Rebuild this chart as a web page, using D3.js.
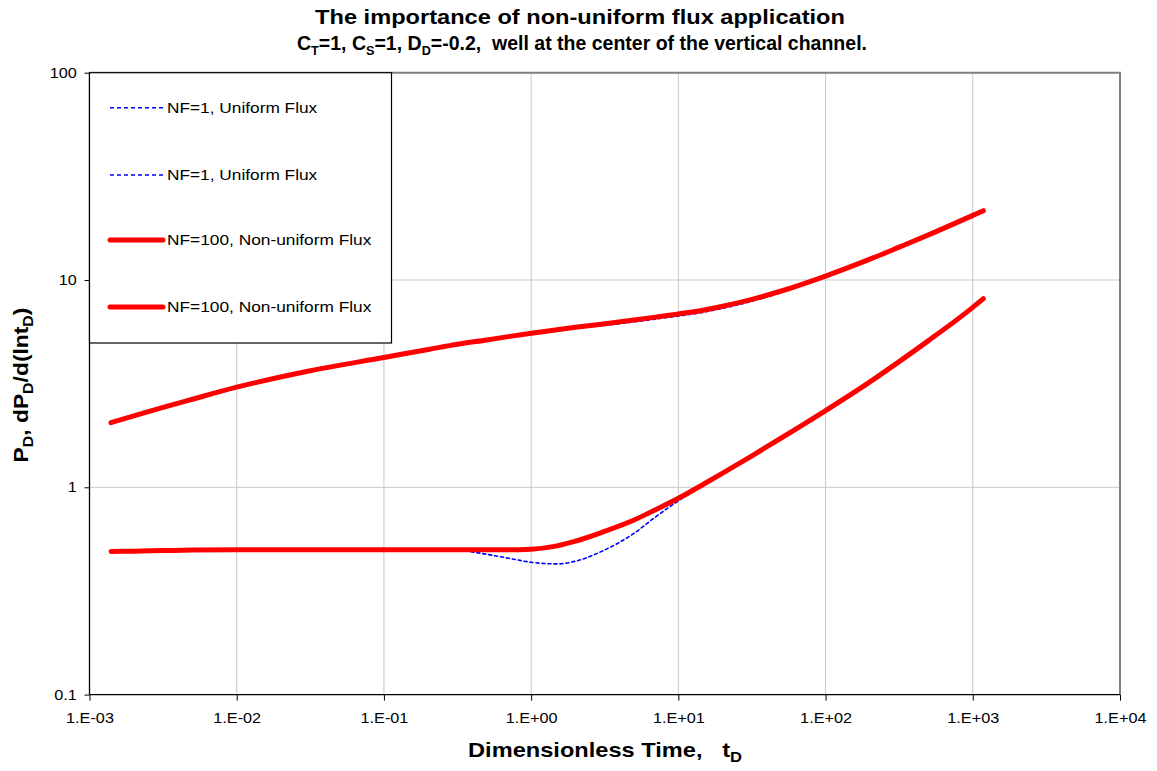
<!DOCTYPE html>
<html>
<head>
<meta charset="utf-8">
<script src="https://cdn.jsdelivr.net/npm/d3@7"></script>
<style>
  html, body { margin: 0; padding: 0; background: #fff; }
  svg { display: block; font-family: Arial, "Liberation Sans", sans-serif; }
</style>
</head>
<body>
<svg id="chart" width="1157" height="771"></svg>
<script>
// Dimensionless time samples
const tD = [0.0014, 0.002, 0.00316, 0.005, 0.01, 0.0316, 0.1, 0.2, 0.316, 0.5, 0.7, 1, 1.5, 2, 3, 5, 7, 10, 15, 20, 31.6, 50, 100, 200, 316, 500, 1000, 1180];

// NF=1, uniform flux: pressure and derivative
const pdUniform  = [2.05, 2.21, 2.43, 2.66, 3.04, 3.65, 4.23, 4.62, 4.9, 5.14, 5.33, 5.53, 5.74, 5.86, 6.02, 6.28, 6.48, 6.70, 7.0, 7.3, 7.9, 8.7, 10.4, 12.6, 14.4, 16.5, 20.5, 21.6];
const dpdUniform = [0.49, 0.492, 0.495, 0.498, 0.5, 0.5, 0.5, 0.5, 0.497, 0.475, 0.455, 0.435, 0.427, 0.44, 0.49, 0.60, 0.72, 0.86, 1.03, 1.171, 1.419, 1.729, 2.345, 3.226, 4.04, 5.1, 7.38, 8.13];

// NF=100, non-uniform flux: pressure and derivative
const pdNonUniform  = [2.05, 2.21, 2.43, 2.66, 3.04, 3.65, 4.23, 4.62, 4.9, 5.14, 5.33, 5.53, 5.76, 5.91, 6.12, 6.41, 6.62, 6.86, 7.17, 7.47, 8.07, 8.85, 10.45, 12.6, 14.4, 16.5, 20.5, 21.6];
const dpdNonUniform = [0.49, 0.492, 0.495, 0.498, 0.5, 0.5, 0.5, 0.5, 0.5, 0.5, 0.5, 0.503, 0.522, 0.55, 0.605, 0.695, 0.78, 0.885, 1.04, 1.171, 1.419, 1.729, 2.345, 3.226, 4.04, 5.1, 7.38, 8.13];

const xTicks = [1e-3, 1e-2, 1e-1, 1e0, 1e1, 1e2, 1e3, 1e4];
const xTickLabels = ["1.E-03", "1.E-02", "1.E-01", "1.E+00", "1.E+01", "1.E+02", "1.E+03", "1.E+04"];
const yTicks = [0.1, 1, 10, 100];
const yTickLabels = ["0.1", "1", "10", "100"];

const legendLabels = ["NF=1, Uniform Flux", "NF=1, Uniform Flux", "NF=100, Non-uniform Flux", "NF=100, Non-uniform Flux"];

const series = [
  { values: pdUniform,     kind: "uniform" },
  { values: dpdUniform,    kind: "uniform" },
  { values: pdNonUniform,  kind: "nonuniform" },
  { values: dpdNonUniform, kind: "nonuniform" }
];

const styles = {
  uniform:    { stroke: "#0000ff", width: 1.6, dash: "3,3" },
  nonuniform: { stroke: "#ff0000", width: 5,   dash: null }
};

const svg = d3.select("#chart");
const plot = { left: 89.5, right: 1120, top: 72.7, bottom: 694.6 };

const x = d3.scaleLog().domain([1e-3, 1e4]).range([plot.left, plot.right]);
const y = d3.scaleLog().domain([0.1, 100]).range([plot.bottom, plot.top]);

// stretch a text group horizontally so it spans the given width
function fitWidth(g, target) {
  const w = g.node().getBBox().width;
  g.attr("transform", `${g.attr("transform") || ""} scale(${target / w},1)`);
}

// Gridlines
const grid = svg.append("g").attr("stroke", "#c8c8c8").attr("stroke-width", 1);
xTicks.slice(1, -1).forEach(t => {
  grid.append("line").attr("x1", x(t)).attr("x2", x(t)).attr("y1", plot.top).attr("y2", plot.bottom);
});
yTicks.slice(1, -1).forEach(v => {
  grid.append("line").attr("x1", plot.left).attr("x2", plot.right).attr("y1", y(v)).attr("y2", y(v));
});

// Plot frame: top and right in gray
svg.append("path")
  .attr("d", `M${plot.left},${plot.top}H${plot.right}V${plot.bottom}`)
  .attr("fill", "none").attr("stroke", "#808080").attr("stroke-width", 2);

// Axes
const xAxis = d3.axisBottom(x).tickValues(xTicks).tickFormat((d, i) => xTickLabels[i]).tickSize(6).tickPadding(12);
const yAxis = d3.axisLeft(y).tickValues(yTicks).tickFormat((d, i) => yTickLabels[i]).tickSize(5).tickPadding(6);

const gx = svg.append("g").attr("transform", `translate(0,${plot.bottom})`).call(xAxis);
const gy = svg.append("g").attr("transform", `translate(${plot.left},0)`).call(yAxis);
[gx, gy].forEach(g => {
  g.select(".domain").attr("stroke", "#000").attr("stroke-width", 1.3);
  g.selectAll(".tick line").attr("stroke", "#000");
  g.selectAll(".tick text").attr("fill", "#000").style("font-size", "14px")
    .style("font-family", "Arial, 'Liberation Sans', sans-serif")
    .attr("transform", "scale(1.16,1)");
});
gx.select(".domain").attr("d", `M${plot.left},0H${plot.right}`);
gy.select(".domain").attr("d", `M0,${plot.top}V${plot.bottom}`);

// Curves
const line = d3.line()
  .x((d, i) => x(tD[i]))
  .y(d => y(d))
  .curve(d3.curveMonotoneX);

const drawOrder = [0, 1, 2, 3]; // uniform flux underneath, non-uniform on top
drawOrder.forEach(k => {
  const s = series[k];
  const st = styles[s.kind];
  svg.append("path")
    .datum(s.values)
    .attr("d", line)
    .attr("fill", "none")
    .attr("stroke", st.stroke)
    .attr("stroke-width", st.width)
    .attr("stroke-linecap", "round")
    .attr("stroke-linejoin", "round")
    .attr("stroke-dasharray", st.dash);
});

// Legend
const legend = svg.append("g");
legend.append("rect")
  .attr("x", plot.left).attr("y", plot.top)
  .attr("width", 391.5 - plot.left).attr("height", 343 - plot.top)
  .attr("fill", "#fff").attr("stroke", "#000").attr("stroke-width", 1.2);
const legendY = [107.7, 175, 240, 307];
const legendTextWidth = [151, 151, 205, 205];
series.forEach((s, i) => {
  const st = styles[s.kind];
  legend.append("line")
    .attr("x1", 110).attr("x2", 163)
    .attr("y1", legendY[i]).attr("y2", legendY[i])
    .attr("stroke", st.stroke)
    .attr("stroke-width", s.kind === "uniform" ? 1.6 : 5)
    .attr("stroke-linecap", s.kind === "uniform" ? "butt" : "round")
    .attr("stroke-dasharray", s.kind === "uniform" ? "4,3" : null);
  const lg = legend.append("g").attr("transform", `translate(167,${legendY[i] + 5})`);
  lg.append("text").style("font-size", "15px").text(legendLabels[i]);
  fitWidth(lg, legendTextWidth[i]);
});

// Title
const title1 = svg.append("g").attr("transform", "translate(580,24)");
title1.append("text").attr("text-anchor", "middle").style("font-weight", "bold").style("font-size", "20px")
  .text("The importance of non-uniform flux application");
fitWidth(title1, 530);

const title2 = svg.append("g").attr("transform", "translate(582,50)");
const t2 = title2.append("text").attr("text-anchor", "middle").style("font-weight", "bold").style("font-size", "20px")
  .attr("xml:space", "preserve");
t2.append("tspan").text("C");
t2.append("tspan").attr("dy", 5).style("font-size", "13px").text("T");
t2.append("tspan").attr("dy", -5).text("=1, C");
t2.append("tspan").attr("dy", 5).style("font-size", "13px").text("S");
t2.append("tspan").attr("dy", -5).text("=1, D");
t2.append("tspan").attr("dy", 5).style("font-size", "13px").text("D");
t2.append("tspan").attr("dy", -5).text("=-0.2,  well at the center of the vertical channel.");
fitWidth(title2, 570);

// X axis title
const xtg = svg.append("g").attr("transform", "translate(605,757)");
const xt = xtg.append("text").attr("text-anchor", "middle")
  .style("font-weight", "bold").style("font-size", "20px").attr("xml:space", "preserve");
xt.append("tspan").text("Dimensionless Time,   t");
xt.append("tspan").attr("dy", 5).style("font-size", "14px").text("D");
fitWidth(xtg, 274);

// Y axis title
const ytg = svg.append("g").attr("transform", "translate(28,385) rotate(-90)");
const yt = ytg.append("text").attr("text-anchor", "middle")
  .style("font-weight", "bold").style("font-size", "20px");
yt.append("tspan").text("P");
yt.append("tspan").attr("dy", 5).style("font-size", "14px").text("D");
yt.append("tspan").attr("dy", -5).text(", dP");
yt.append("tspan").attr("dy", 5).style("font-size", "14px").text("D");
yt.append("tspan").attr("dy", -5).text("/d(lnt");
yt.append("tspan").attr("dy", 5).style("font-size", "14px").text("D");
yt.append("tspan").attr("dy", -5).text(")");
fitWidth(ytg, 155);
</script>
</body>
</html>
